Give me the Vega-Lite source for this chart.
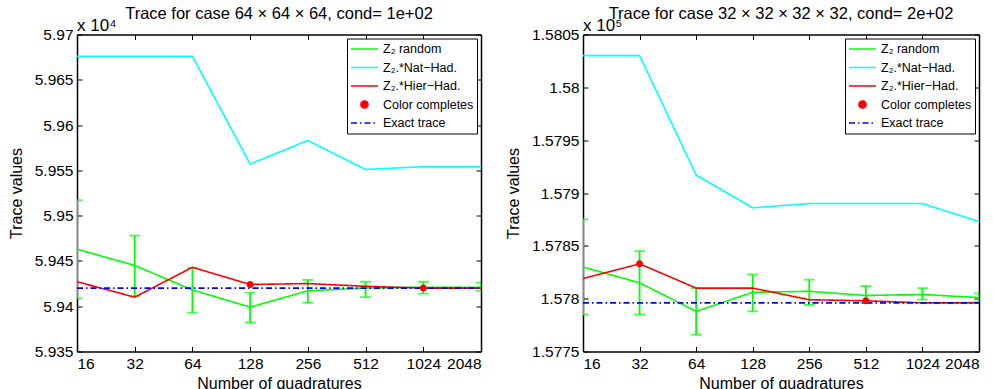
{
  "$schema": "https://vega.github.io/schema/vega-lite/v6.json",
  "padding": {"left": 8, "top": 5.5, "right": 0, "bottom": 0},
  "autosize": {"type": "pad"},
  "background": "white",
  "datasets": {
    "L": [
      {"n": 16, "series": "Z₂ random", "v": 5.9463},
      {"n": 32, "series": "Z₂ random", "v": 5.9445},
      {"n": 64, "series": "Z₂ random", "v": 5.9418},
      {"n": 128, "series": "Z₂ random", "v": 5.9399},
      {"n": 256, "series": "Z₂ random", "v": 5.9417},
      {"n": 512, "series": "Z₂ random", "v": 5.9420},
      {"n": 1024, "series": "Z₂ random", "v": 5.9421},
      {"n": 2048, "series": "Z₂ random", "v": 5.9421},
      {"n": 16, "series": "Z₂.*Nat−Had.", "v": 5.9676},
      {"n": 32, "series": "Z₂.*Nat−Had.", "v": 5.9676},
      {"n": 64, "series": "Z₂.*Nat−Had.", "v": 5.9676},
      {"n": 128, "series": "Z₂.*Nat−Had.", "v": 5.9557},
      {"n": 256, "series": "Z₂.*Nat−Had.", "v": 5.9583},
      {"n": 512, "series": "Z₂.*Nat−Had.", "v": 5.9551},
      {"n": 1024, "series": "Z₂.*Nat−Had.", "v": 5.9554},
      {"n": 2048, "series": "Z₂.*Nat−Had.", "v": 5.9554},
      {"n": 16, "series": "Z₂.*Hier−Had.", "v": 5.9427},
      {"n": 32, "series": "Z₂.*Hier−Had.", "v": 5.9410},
      {"n": 64, "series": "Z₂.*Hier−Had.", "v": 5.9443},
      {"n": 128, "series": "Z₂.*Hier−Had.", "v": 5.9424},
      {"n": 256, "series": "Z₂.*Hier−Had.", "v": 5.9425},
      {"n": 512, "series": "Z₂.*Hier−Had.", "v": 5.9422},
      {"n": 1024, "series": "Z₂.*Hier−Had.", "v": 5.9420},
      {"n": 2048, "series": "Z₂.*Hier−Had.", "v": 5.9420},
      {"n": 128, "series": "Color completes", "v": 5.9424},
      {"n": 1024, "series": "Color completes", "v": 5.9420},
      {"n": 16, "series": "Exact trace", "v": 5.9420},
      {"n": 2048, "series": "Exact trace", "v": 5.9420}
    ],
    "LE": [
      {"n": 16, "lo": 5.9409, "hi": 5.9517},
      {"n": 32, "lo": 5.9411, "hi": 5.9478},
      {"n": 64, "lo": 5.9393, "hi": 5.9442},
      {"n": 128, "lo": 5.9382, "hi": 5.9415},
      {"n": 256, "lo": 5.9404, "hi": 5.9429},
      {"n": 512, "lo": 5.9410, "hi": 5.9427},
      {"n": 1024, "lo": 5.9414, "hi": 5.9427},
      {"n": 2048, "lo": 5.9417, "hi": 5.9426}
    ],
    "R": [
      {"n": 16, "series": "Z₂ random", "v": 1.57830},
      {"n": 32, "series": "Z₂ random", "v": 1.57815},
      {"n": 64, "series": "Z₂ random", "v": 1.57788},
      {"n": 128, "series": "Z₂ random", "v": 1.57806},
      {"n": 256, "series": "Z₂ random", "v": 1.57807},
      {"n": 512, "series": "Z₂ random", "v": 1.57803},
      {"n": 1024, "series": "Z₂ random", "v": 1.57804},
      {"n": 2048, "series": "Z₂ random", "v": 1.57801},
      {"n": 16, "series": "Z₂.*Nat−Had.", "v": 1.58030},
      {"n": 32, "series": "Z₂.*Nat−Had.", "v": 1.58030},
      {"n": 64, "series": "Z₂.*Nat−Had.", "v": 1.57917},
      {"n": 128, "series": "Z₂.*Nat−Had.", "v": 1.57886},
      {"n": 256, "series": "Z₂.*Nat−Had.", "v": 1.57890},
      {"n": 512, "series": "Z₂.*Nat−Had.", "v": 1.57890},
      {"n": 1024, "series": "Z₂.*Nat−Had.", "v": 1.57890},
      {"n": 2048, "series": "Z₂.*Nat−Had.", "v": 1.57873},
      {"n": 16, "series": "Z₂.*Hier−Had.", "v": 1.57819},
      {"n": 32, "series": "Z₂.*Hier−Had.", "v": 1.57833},
      {"n": 64, "series": "Z₂.*Hier−Had.", "v": 1.57810},
      {"n": 128, "series": "Z₂.*Hier−Had.", "v": 1.57810},
      {"n": 256, "series": "Z₂.*Hier−Had.", "v": 1.57799},
      {"n": 512, "series": "Z₂.*Hier−Had.", "v": 1.57798},
      {"n": 1024, "series": "Z₂.*Hier−Had.", "v": 1.57796},
      {"n": 2048, "series": "Z₂.*Hier−Had.", "v": 1.57796},
      {"n": 32, "series": "Color completes", "v": 1.57833},
      {"n": 512, "series": "Color completes", "v": 1.57798},
      {"n": 16, "series": "Exact trace", "v": 1.57796},
      {"n": 2048, "series": "Exact trace", "v": 1.57796}
    ],
    "RE": [
      {"n": 16, "lo": 1.57785, "hi": 1.57875},
      {"n": 32, "lo": 1.57785, "hi": 1.57845},
      {"n": 64, "lo": 1.57766, "hi": 1.57810},
      {"n": 128, "lo": 1.57788, "hi": 1.57823},
      {"n": 256, "lo": 1.57794, "hi": 1.57818},
      {"n": 512, "lo": 1.57796, "hi": 1.57812},
      {"n": 1024, "lo": 1.57799, "hi": 1.57810},
      {"n": 2048, "lo": 1.57797, "hi": 1.57805}
    ]
  },
  "hconcat": [
    {
      "width": 404,
      "height": 317,
      "title": {"text": "Trace for case 64 × 64 × 64, cond= 1e+02", "fontSize": 16.5, "fontWeight": "normal", "frame": "group", "offset": -6, "anchor": "middle", "color": "black", "font": "Liberation Sans"},
      "layer": [
        {
          "layer": [
            {
              "data": {"name": "LE"},
              "mark": {"type": "rule", "color": "#00ff00", "strokeWidth": 1.8, "clip": true},
              "encoding": {
                "x": {"field": "n", "type": "quantitative", "scale": {"type": "log", "base": 2, "domain": [16, 2048], "nice": false}, "axis": {"values": [16, 32, 64, 128, 256, 512, 1024, 2048], "format": "d", "title": "Number of quadratures", "titlePadding": 3}},
                "y": {"field": "lo", "type": "quantitative", "scale": {"domain": [5.935, 5.97], "nice": false, "zero": false}, "axis": {"values": [5.935, 5.94, 5.945, 5.95, 5.955, 5.96, 5.965, 5.97], "format": "~f", "title": "Trace values", "titlePadding": 10}},
                "y2": {"field": "hi"}
              }
            },
            {
              "data": {"name": "LE"},
              "mark": {"type": "tick", "orient": "horizontal", "color": "#00ff00", "size": 11, "thickness": 1.8, "clip": true},
              "encoding": {
                "x": {"field": "n", "type": "quantitative", "scale": {"type": "log", "base": 2, "domain": [16, 2048], "nice": false}, "axis": {"values": [16, 32, 64, 128, 256, 512, 1024, 2048], "format": "d", "title": "Number of quadratures", "titlePadding": 3}},
                "y": {"field": "lo", "type": "quantitative", "scale": {"domain": [5.935, 5.97], "nice": false, "zero": false}, "axis": {"values": [5.935, 5.94, 5.945, 5.95, 5.955, 5.96, 5.965, 5.97], "format": "~f", "title": "Trace values", "titlePadding": 10}}
              }
            },
            {
              "data": {"name": "LE"},
              "mark": {"type": "tick", "orient": "horizontal", "color": "#00ff00", "size": 11, "thickness": 1.8, "clip": true},
              "encoding": {
                "x": {"field": "n", "type": "quantitative", "scale": {"type": "log", "base": 2, "domain": [16, 2048], "nice": false}, "axis": {"values": [16, 32, 64, 128, 256, 512, 1024, 2048], "format": "d", "title": "Number of quadratures", "titlePadding": 3}},
                "y": {"field": "hi", "type": "quantitative", "scale": {"domain": [5.935, 5.97], "nice": false, "zero": false}, "axis": {"values": [5.935, 5.94, 5.945, 5.95, 5.955, 5.96, 5.965, 5.97], "format": "~f", "title": "Trace values", "titlePadding": 10}}
              }
            },
            {
              "data": {"name": "L"},
              "transform": [{"filter": "datum.series !== 'Color completes'"}],
              "mark": {"type": "line", "clip": true},
              "encoding": {
                "x": {"field": "n", "type": "quantitative", "scale": {"type": "log", "base": 2, "domain": [16, 2048], "nice": false}, "axis": {"values": [16, 32, 64, 128, 256, 512, 1024, 2048], "format": "d", "title": "Number of quadratures", "titlePadding": 3}},
                "y": {"field": "v", "type": "quantitative", "scale": {"domain": [5.935, 5.97], "nice": false, "zero": false}, "axis": {"values": [5.935, 5.94, 5.945, 5.95, 5.955, 5.96, 5.965, 5.97], "format": "~f", "title": "Trace values", "titlePadding": 10}},
                "color": {"field": "series", "type": "nominal", "scale": {"domain": ["Z₂ random", "Z₂.*Nat−Had.", "Z₂.*Hier−Had.", "Color completes", "Exact trace"], "range": ["#00ff00", "#00ffff", "#ff0000", "#ff0000", "#0000ff"]}, "legend": {"title": null, "orient": "top-right", "offset": 4, "strokeColor": "black", "fillColor": "white", "padding": 3, "labelFontSize": 12.5, "labelFont": "Liberation Sans", "labelColor": "black", "symbolSize": 729, "symbolStrokeWidth": 1.5, "clipHeight": 15, "rowPadding": 3.5, "labelOffset": 4}},
                "strokeDash": {"field": "series", "type": "nominal", "scale": {"domain": ["Z₂ random", "Z₂.*Nat−Had.", "Z₂.*Hier−Had.", "Color completes", "Exact trace"], "range": [[1, 0], [1, 0], [1, 0], [1, 0], [6, 3, 1.5, 3]]}, "legend": {"title": null, "orient": "top-right", "offset": 4, "strokeColor": "black", "fillColor": "white", "padding": 3, "labelFontSize": 12.5, "labelFont": "Liberation Sans", "labelColor": "black", "symbolSize": 729, "symbolStrokeWidth": 1.5, "clipHeight": 15, "rowPadding": 3.5, "labelOffset": 4}},
                "strokeWidth": {"field": "series", "type": "nominal", "scale": {"domain": ["Z₂ random", "Z₂.*Nat−Had.", "Z₂.*Hier−Had.", "Color completes", "Exact trace"], "range": [1.6, 1.6, 2, 2, 1.2]}, "legend": null}
              }
            },
            {
              "data": {"name": "L"},
              "transform": [{"filter": "datum.series === 'Color completes'"}],
              "mark": {"type": "point", "filled": true, "opacity": 1, "size": 729, "clip": true},
              "encoding": {
                "x": {"field": "n", "type": "quantitative", "scale": {"type": "log", "base": 2, "domain": [16, 2048], "nice": false}, "axis": {"values": [16, 32, 64, 128, 256, 512, 1024, 2048], "format": "d", "title": "Number of quadratures", "titlePadding": 3}},
                "y": {"field": "v", "type": "quantitative", "scale": {"domain": [5.935, 5.97], "nice": false, "zero": false}, "axis": {"values": [5.935, 5.94, 5.945, 5.95, 5.955, 5.96, 5.965, 5.97], "format": "~f", "title": "Trace values", "titlePadding": 10}},
                "color": {"field": "series", "type": "nominal", "scale": {"domain": ["Z₂ random", "Z₂.*Nat−Had.", "Z₂.*Hier−Had.", "Color completes", "Exact trace"], "range": ["#00ff00", "#00ffff", "#ff0000", "#ff0000", "#0000ff"]}, "legend": {"title": null, "orient": "top-right", "offset": 4, "strokeColor": "black", "fillColor": "white", "padding": 3, "labelFontSize": 12.5, "labelFont": "Liberation Sans", "labelColor": "black", "symbolSize": 729, "symbolStrokeWidth": 1.5, "clipHeight": 15, "rowPadding": 3.5, "labelOffset": 4}},
                "shape": {"field": "series", "type": "nominal", "scale": {"domain": ["Z₂ random", "Z₂.*Nat−Had.", "Z₂.*Hier−Had.", "Color completes", "Exact trace"], "range": ["M-1,0H1", "M-1,0H1", "M-1,0H1", "M0.26,0A0.26,0.26,0,1,1,-0.26,0A0.26,0.26,0,1,1,0.26,0Z", "M-1,0H1"]}, "legend": {"title": null, "orient": "top-right", "offset": 4, "strokeColor": "black", "fillColor": "white", "padding": 3, "labelFontSize": 12.5, "labelFont": "Liberation Sans", "labelColor": "black", "symbolSize": 729, "symbolStrokeWidth": 1.5, "clipHeight": 15, "rowPadding": 3.5, "labelOffset": 4}}
              }
            },
            {
              "data": {"values": [{}]},
              "mark": {"type": "text", "align": "left", "baseline": "alphabetic", "dy": -4, "fontSize": 17, "font": "Liberation Sans", "color": "black"},
              "encoding": {
                "x": {"datum": 16, "type": "quantitative", "scale": {"type": "log", "base": 2, "domain": [16, 2048], "nice": false}, "axis": {"values": [16, 32, 64, 128, 256, 512, 1024, 2048], "format": "d", "title": "Number of quadratures", "titlePadding": 3}},
                "y": {"datum": 5.97, "type": "quantitative", "scale": {"domain": [5.935, 5.97], "nice": false, "zero": false}, "axis": {"values": [5.935, 5.94, 5.945, 5.95, 5.955, 5.96, 5.965, 5.97], "format": "~f", "title": "Trace values", "titlePadding": 10}},
                "text": {"value": "x 10⁴"}
              }
            }
          ]
        },
        {
          "data": {"name": "L"},
          "mark": {"type": "point", "opacity": 0},
          "encoding": {
            "x": {"field": "n", "type": "quantitative", "scale": {"type": "log", "base": 2, "domain": [16, 2048], "nice": false}, "axis": {"orient": "top", "values": [16, 32, 64, 128, 256, 512, 1024, 2048], "labels": false, "title": null}},
            "y": {"field": "v", "type": "quantitative", "scale": {"domain": [5.935, 5.97], "nice": false, "zero": false}, "axis": {"orient": "right", "values": [5.935, 5.94, 5.945, 5.95, 5.955, 5.96, 5.965, 5.97], "labels": false, "title": null}}
          }
        }
      ],
      "resolve": {"axis": {"x": "independent", "y": "independent"}}
    },
    {
      "width": 396,
      "height": 317,
      "title": {"text": "Trace for case 32 × 32 × 32 × 32, cond= 2e+02", "fontSize": 16.5, "fontWeight": "normal", "frame": "group", "offset": -6, "anchor": "middle", "color": "black", "font": "Liberation Sans"},
      "layer": [
        {
          "layer": [
            {
              "data": {"name": "RE"},
              "mark": {"type": "rule", "color": "#00ff00", "strokeWidth": 1.8, "clip": true},
              "encoding": {
                "x": {"field": "n", "type": "quantitative", "scale": {"type": "log", "base": 2, "domain": [16, 2048], "nice": false}, "axis": {"values": [16, 32, 64, 128, 256, 512, 1024, 2048], "format": "d", "title": "Number of quadratures", "titlePadding": 3}},
                "y": {"field": "lo", "type": "quantitative", "scale": {"domain": [1.5775, 1.5805], "nice": false, "zero": false}, "axis": {"values": [1.5775, 1.578, 1.5785, 1.579, 1.5795, 1.58, 1.5805], "format": "~f", "title": "Trace values", "titlePadding": 10}},
                "y2": {"field": "hi"}
              }
            },
            {
              "data": {"name": "RE"},
              "mark": {"type": "tick", "orient": "horizontal", "color": "#00ff00", "size": 11, "thickness": 1.8, "clip": true},
              "encoding": {
                "x": {"field": "n", "type": "quantitative", "scale": {"type": "log", "base": 2, "domain": [16, 2048], "nice": false}, "axis": {"values": [16, 32, 64, 128, 256, 512, 1024, 2048], "format": "d", "title": "Number of quadratures", "titlePadding": 3}},
                "y": {"field": "lo", "type": "quantitative", "scale": {"domain": [1.5775, 1.5805], "nice": false, "zero": false}, "axis": {"values": [1.5775, 1.578, 1.5785, 1.579, 1.5795, 1.58, 1.5805], "format": "~f", "title": "Trace values", "titlePadding": 10}}
              }
            },
            {
              "data": {"name": "RE"},
              "mark": {"type": "tick", "orient": "horizontal", "color": "#00ff00", "size": 11, "thickness": 1.8, "clip": true},
              "encoding": {
                "x": {"field": "n", "type": "quantitative", "scale": {"type": "log", "base": 2, "domain": [16, 2048], "nice": false}, "axis": {"values": [16, 32, 64, 128, 256, 512, 1024, 2048], "format": "d", "title": "Number of quadratures", "titlePadding": 3}},
                "y": {"field": "hi", "type": "quantitative", "scale": {"domain": [1.5775, 1.5805], "nice": false, "zero": false}, "axis": {"values": [1.5775, 1.578, 1.5785, 1.579, 1.5795, 1.58, 1.5805], "format": "~f", "title": "Trace values", "titlePadding": 10}}
              }
            },
            {
              "data": {"name": "R"},
              "transform": [{"filter": "datum.series !== 'Color completes'"}],
              "mark": {"type": "line", "clip": true},
              "encoding": {
                "x": {"field": "n", "type": "quantitative", "scale": {"type": "log", "base": 2, "domain": [16, 2048], "nice": false}, "axis": {"values": [16, 32, 64, 128, 256, 512, 1024, 2048], "format": "d", "title": "Number of quadratures", "titlePadding": 3}},
                "y": {"field": "v", "type": "quantitative", "scale": {"domain": [1.5775, 1.5805], "nice": false, "zero": false}, "axis": {"values": [1.5775, 1.578, 1.5785, 1.579, 1.5795, 1.58, 1.5805], "format": "~f", "title": "Trace values", "titlePadding": 10}},
                "color": {"field": "series", "type": "nominal", "scale": {"domain": ["Z₂ random", "Z₂.*Nat−Had.", "Z₂.*Hier−Had.", "Color completes", "Exact trace"], "range": ["#00ff00", "#00ffff", "#ff0000", "#ff0000", "#0000ff"]}, "legend": {"title": null, "orient": "top-right", "offset": 4, "strokeColor": "black", "fillColor": "white", "padding": 3, "labelFontSize": 12.5, "labelFont": "Liberation Sans", "labelColor": "black", "symbolSize": 729, "symbolStrokeWidth": 1.5, "clipHeight": 15, "rowPadding": 3.5, "labelOffset": 4}},
                "strokeDash": {"field": "series", "type": "nominal", "scale": {"domain": ["Z₂ random", "Z₂.*Nat−Had.", "Z₂.*Hier−Had.", "Color completes", "Exact trace"], "range": [[1, 0], [1, 0], [1, 0], [1, 0], [6, 3, 1.5, 3]]}, "legend": {"title": null, "orient": "top-right", "offset": 4, "strokeColor": "black", "fillColor": "white", "padding": 3, "labelFontSize": 12.5, "labelFont": "Liberation Sans", "labelColor": "black", "symbolSize": 729, "symbolStrokeWidth": 1.5, "clipHeight": 15, "rowPadding": 3.5, "labelOffset": 4}},
                "strokeWidth": {"field": "series", "type": "nominal", "scale": {"domain": ["Z₂ random", "Z₂.*Nat−Had.", "Z₂.*Hier−Had.", "Color completes", "Exact trace"], "range": [1.6, 1.6, 2, 2, 1.2]}, "legend": null}
              }
            },
            {
              "data": {"name": "R"},
              "transform": [{"filter": "datum.series === 'Color completes'"}],
              "mark": {"type": "point", "filled": true, "opacity": 1, "size": 729, "clip": true},
              "encoding": {
                "x": {"field": "n", "type": "quantitative", "scale": {"type": "log", "base": 2, "domain": [16, 2048], "nice": false}, "axis": {"values": [16, 32, 64, 128, 256, 512, 1024, 2048], "format": "d", "title": "Number of quadratures", "titlePadding": 3}},
                "y": {"field": "v", "type": "quantitative", "scale": {"domain": [1.5775, 1.5805], "nice": false, "zero": false}, "axis": {"values": [1.5775, 1.578, 1.5785, 1.579, 1.5795, 1.58, 1.5805], "format": "~f", "title": "Trace values", "titlePadding": 10}},
                "color": {"field": "series", "type": "nominal", "scale": {"domain": ["Z₂ random", "Z₂.*Nat−Had.", "Z₂.*Hier−Had.", "Color completes", "Exact trace"], "range": ["#00ff00", "#00ffff", "#ff0000", "#ff0000", "#0000ff"]}, "legend": {"title": null, "orient": "top-right", "offset": 4, "strokeColor": "black", "fillColor": "white", "padding": 3, "labelFontSize": 12.5, "labelFont": "Liberation Sans", "labelColor": "black", "symbolSize": 729, "symbolStrokeWidth": 1.5, "clipHeight": 15, "rowPadding": 3.5, "labelOffset": 4}},
                "shape": {"field": "series", "type": "nominal", "scale": {"domain": ["Z₂ random", "Z₂.*Nat−Had.", "Z₂.*Hier−Had.", "Color completes", "Exact trace"], "range": ["M-1,0H1", "M-1,0H1", "M-1,0H1", "M0.26,0A0.26,0.26,0,1,1,-0.26,0A0.26,0.26,0,1,1,0.26,0Z", "M-1,0H1"]}, "legend": {"title": null, "orient": "top-right", "offset": 4, "strokeColor": "black", "fillColor": "white", "padding": 3, "labelFontSize": 12.5, "labelFont": "Liberation Sans", "labelColor": "black", "symbolSize": 729, "symbolStrokeWidth": 1.5, "clipHeight": 15, "rowPadding": 3.5, "labelOffset": 4}}
              }
            },
            {
              "data": {"values": [{}]},
              "mark": {"type": "text", "align": "left", "baseline": "alphabetic", "dy": -4, "fontSize": 17, "font": "Liberation Sans", "color": "black"},
              "encoding": {
                "x": {"datum": 16, "type": "quantitative", "scale": {"type": "log", "base": 2, "domain": [16, 2048], "nice": false}, "axis": {"values": [16, 32, 64, 128, 256, 512, 1024, 2048], "format": "d", "title": "Number of quadratures", "titlePadding": 3}},
                "y": {"datum": 1.5805, "type": "quantitative", "scale": {"domain": [1.5775, 1.5805], "nice": false, "zero": false}, "axis": {"values": [1.5775, 1.578, 1.5785, 1.579, 1.5795, 1.58, 1.5805], "format": "~f", "title": "Trace values", "titlePadding": 10}},
                "text": {"value": "x 10⁵"}
              }
            }
          ]
        },
        {
          "data": {"name": "R"},
          "mark": {"type": "point", "opacity": 0},
          "encoding": {
            "x": {"field": "n", "type": "quantitative", "scale": {"type": "log", "base": 2, "domain": [16, 2048], "nice": false}, "axis": {"orient": "top", "values": [16, 32, 64, 128, 256, 512, 1024, 2048], "labels": false, "title": null}},
            "y": {"field": "v", "type": "quantitative", "scale": {"domain": [1.5775, 1.5805], "nice": false, "zero": false}, "axis": {"orient": "right", "values": [1.5775, 1.578, 1.5785, 1.579, 1.5795, 1.58, 1.5805], "labels": false, "title": null}}
          }
        }
      ],
      "resolve": {"axis": {"x": "independent", "y": "independent"}}
    }
  ],
  "spacing": 102,
  "bounds": "flush",
  "resolve": {
    "scale": {"color": "independent", "shape": "independent", "strokeDash": "independent", "strokeWidth": "independent"},
    "legend": {"color": "independent", "shape": "independent", "strokeDash": "independent"}
  },
  "config": {
    "font": "Liberation Sans",
    "view": {"stroke": null},
    "title": {"fontSize": 16.5, "fontWeight": "normal", "color": "black"},
    "axis": {
      "labelFontSize": 15.5,
      "titleFontSize": 16,
      "titleFontWeight": "normal",
      "labelColor": "black",
      "titleColor": "black",
      "domainColor": "black",
      "domainWidth": 1.5,
      "tickColor": "black",
      "tickWidth": 1,
      "grid": false,
      "tickSize": -5,
      "labelFont": "Liberation Sans",
      "titleFont": "Liberation Sans"
    },
    "axisX": {"labelPadding": 10},
    "axisY": {"labelPadding": 9}
  }
}
